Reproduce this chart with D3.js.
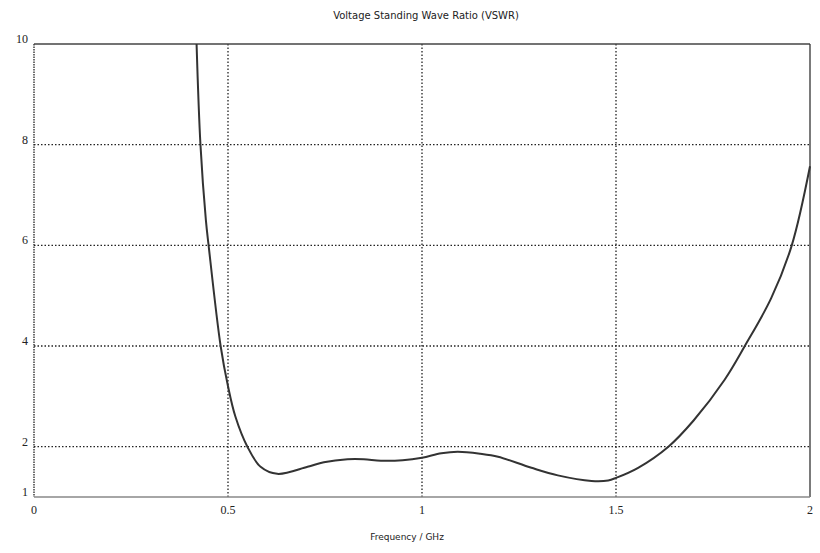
<!DOCTYPE html>
<html lang="en">
<head>
  <meta charset="UTF-8">
  <title>VSWR</title>
  <style>
    body {
      margin: 0;
      padding: 0;
      background-color: #fff;
    }

    .grid line {
      stroke: #222;
      stroke-width: 1.3;
      stroke-dasharray: 1.5, 2;
    }

    .tick-label {
      font-family: "Liberation Serif", "DejaVu Serif", serif;
      font-size: 12px;
      fill: #222;
    }

    .title {
      font-family: "DejaVu Sans", sans-serif;
      font-size: 10px;
      fill: #222;
    }

    .vswr {
      fill: none;
      stroke: #333;
      stroke-width: 2;
    }
  </style>
</head>
<body>
  <div id="chart"></div>

  <script src="https://d3js.org/d3.v7.min.js"></script>
  <script>
    // values
    const freq = [0.419, 0.429, 0.443, 0.450, 0.481, 0.500, 0.519, 0.550, 0.584, 0.627,
                  0.705, 0.747, 0.808, 0.850, 0.894, 0.950, 1.000, 1.050, 1.092, 1.150,
                  1.196, 1.282, 1.350, 1.437, 1.480, 1.500, 1.557, 1.635, 1.700, 1.780,
                  1.832, 1.900, 1.953, 2.000];
    const vswr = [10, 8, 6.5, 6, 4, 3.2, 2.6, 2.0, 1.6, 1.46,
                  1.60, 1.69, 1.75, 1.75, 1.72, 1.73, 1.78, 1.87, 1.90, 1.86,
                  1.80, 1.58, 1.43, 1.32, 1.33, 1.38, 1.58, 2.0, 2.52, 3.33,
                  4.0, 4.95, 6.0, 7.57];
    const xTicks = [0, 0.5, 1, 1.5, 2];
    const yTicks = [1, 2, 4, 6, 8, 10];

    const width = 820, height = 553;
    const margin = { top: 44, right: 10, bottom: 56, left: 34 };

    const svg = d3.select('#chart').append('svg')
      .attr('width', width)
      .attr('height', height);

    const x = d3.scaleLinear().domain([0, 2]).range([margin.left, width - margin.right]);
    const y = d3.scaleLinear().domain([1, 10]).range([height - margin.bottom, margin.top]);

    // grid lines
    const grid = svg.append('g').attr('class', 'grid');
    grid.selectAll('.vx')
      .data(xTicks.filter(d => d > 0 && d < 2))
      .enter().append('line')
      .attr('x1', d => x(d)).attr('x2', d => x(d))
      .attr('y1', y(10)).attr('y2', y(1));
    grid.selectAll('.hy')
      .data(yTicks.filter(d => d > 1 && d < 10))
      .enter().append('line')
      .attr('x1', x(0)).attr('x2', x(2))
      .attr('y1', d => y(d)).attr('y2', d => y(d));

    // frame
    svg.append('line')
      .attr('x1', x(0)).attr('x2', x(0)).attr('y1', y(10)).attr('y2', y(1))
      .style('stroke', '#222').style('stroke-width', 1.3).style('stroke-dasharray', '1.5,1');
    svg.append('line')
      .attr('x1', x(0)).attr('x2', x(2)).attr('y1', y(10)).attr('y2', y(10))
      .style('stroke', '#444').style('stroke-width', 1.3);
    svg.append('line')
      .attr('x1', x(2)).attr('x2', x(2)).attr('y1', y(10)).attr('y2', y(1))
      .style('stroke', '#333').style('stroke-width', 1.3);
    svg.append('line')
      .attr('x1', x(0)).attr('x2', x(2)).attr('y1', y(1)).attr('y2', y(1))
      .style('stroke', '#888').style('stroke-width', 1.5);

    // tick labels
    svg.selectAll('.ylab')
      .data(yTicks)
      .enter().append('text')
      .attr('class', 'tick-label')
      .attr('x', x(0) - 6)
      .attr('y', d => y(d) - 1)
      .attr('text-anchor', 'end')
      .text(d => d);
    svg.selectAll('.xlab')
      .data(xTicks)
      .enter().append('text')
      .attr('class', 'tick-label')
      .attr('x', d => x(d))
      .attr('y', y(1) + 17)
      .attr('text-anchor', 'middle')
      .text(d => d);

    // curve
    const pts = freq.map((f, i) => [f, vswr[i]]);
    const line = d3.line()
      .x(d => x(d[0]))
      .y(d => y(d[1]))
      .curve(d3.curveCatmullRom.alpha(0.5));
    svg.append('path')
      .datum(pts)
      .attr('class', 'vswr')
      .attr('d', line);

    // titles
    svg.append('text')
      .attr('class', 'title')
      .attr('x', 426).attr('y', 19)
      .attr('text-anchor', 'middle')
      .text('Voltage Standing Wave Ratio (VSWR)');
    svg.append('text')
      .attr('class', 'title')
      .attr('x', 407).attr('y', 540)
      .attr('text-anchor', 'middle')
      .style('font-size', '9px')
      .text('Frequency / GHz');
  </script>
</body>
</html>
